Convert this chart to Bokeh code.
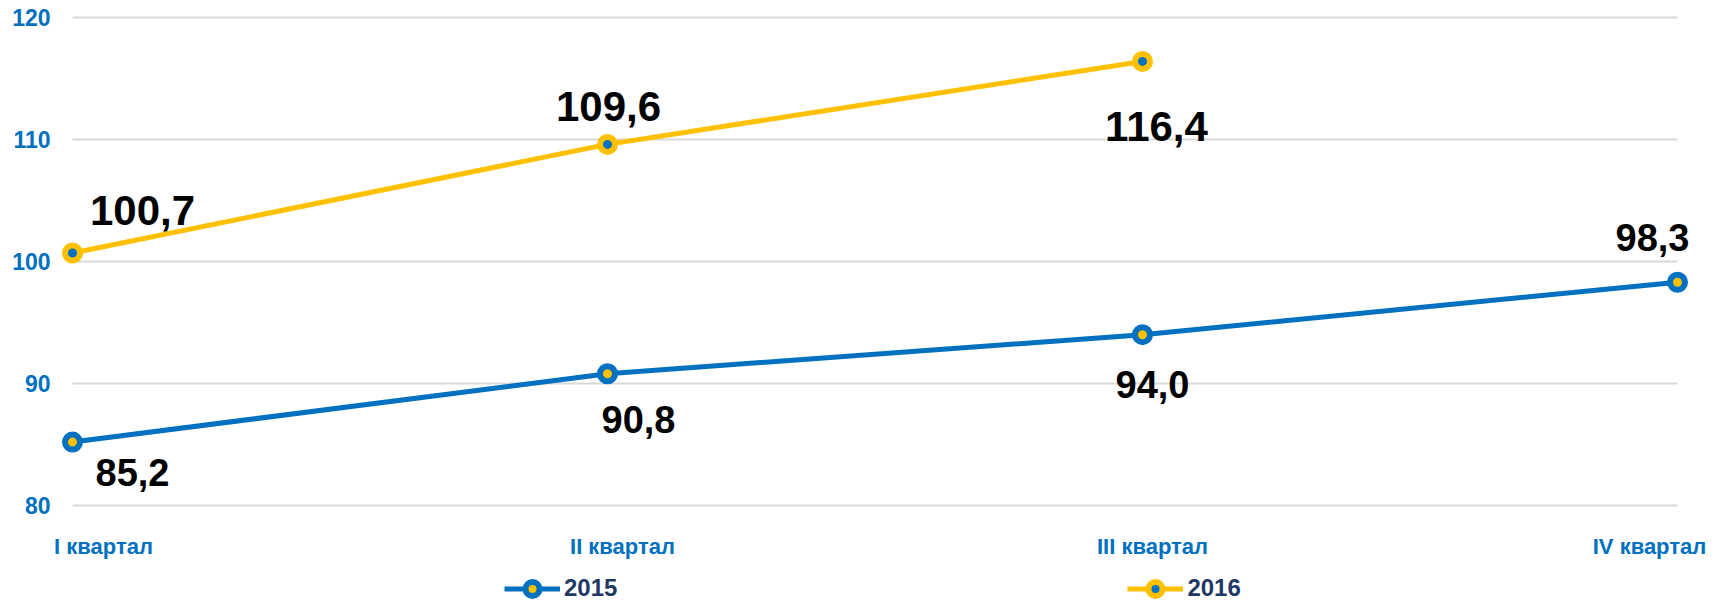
from bokeh.plotting import figure
from bokeh.models import ColumnDataSource, Range1d, FixedTicker, Legend, LegendItem
from bokeh.core.properties import value
from bokeh.embed import file_html
from bokeh.resources import INLINE

# ---- data ----
categories = ["I квартал", "II квартал", "III квартал", "IV квартал"]
values_2015 = [85.2, 90.8, 94.0, 98.3]
values_2016 = [100.7, 109.6, 116.4]
series_names = ["2015", "2016"]
y_ticks = [80, 90, 100, 110, 120]

# ---- styles ----
BLUE = "#0070C0"
GOLD = "#FFC000"
GRID = "#D9D9D9"
NAVY = "#1F3864"
FONT = "Liberation Sans"

# data-label offsets in screen px relative to point
dx_2015 = [60, 31, 10, -25]
dy_2015 = [30, 46, 50, -45]
dx_2016 = [70, 1, 14]
dy_2016 = [-42, -38, 65]
# category label offsets (centre x relative to category, below axis floor)
cat_dx = [31, 15, 10, -28]
cat_dy = 41


def fmt(v):
    return f"{v:.1f}".replace(".", ",")


p = figure(width=1716, height=600,
           x_range=Range1d(-0.04112, 3.0729), y_range=Range1d(72.213, 121.393),
           output_backend="svg", toolbar_location=None,
           min_border_left=50, min_border_right=0, min_border_top=0, min_border_bottom=0,
           x_axis_location=None)
p.outline_line_color = None
p.grid.visible = False
p.background_fill_color = "white"

# y axis
ya = p.yaxis[0]
ya.ticker = FixedTicker(ticks=y_ticks)
ya.axis_line_color = None
ya.major_tick_line_color = None
ya.minor_tick_line_color = None
ya.major_tick_out = 0
ya.major_tick_in = 0
ya.major_label_standoff = 0
ya.major_label_text_font = FONT
ya.major_label_text_font_style = "bold"
ya.major_label_text_font_size = "23px"
ya.major_label_text_color = BLUE

# gridlines spanning the category extent
n = len(categories)
p.segment(x0=[0] * len(y_ticks), x1=[n - 1] * len(y_ticks), y0=y_ticks, y1=y_ticks,
          line_color=GRID, line_width=2)

x15 = list(range(len(values_2015)))
x16 = list(range(len(values_2016)))

l15 = p.line(x15, values_2015, line_color=BLUE, line_width=5)
l16 = p.line(x16, values_2016, line_color=GOLD, line_width=5)
s15 = p.scatter(x15, values_2015, size=15, line_width=6, line_color=BLUE, fill_color=GOLD)
s16 = p.scatter(x16, values_2016, size=15, line_width=6, line_color=GOLD, fill_color=BLUE)

src15 = ColumnDataSource(dict(x=x15, y=values_2015, t=[fmt(v) for v in values_2015],
                              dx=dx_2015, dy=dy_2015))
src16 = ColumnDataSource(dict(x=x16, y=values_2016, t=[fmt(v) for v in values_2016],
                              dx=dx_2016, dy=dy_2016))
p.text(x="x", y="y", text="t", x_offset="dx", y_offset="dy", source=src15,
       text_font=value(FONT), text_font_style="bold", text_font_size="38px",
       text_align="center", text_baseline="alphabetic", text_color="black")
p.text(x="x", y="y", text="t", x_offset="dx", y_offset="dy", source=src16,
       text_font=value(FONT), text_font_style="bold", text_font_size="42px",
       text_align="center", text_baseline="alphabetic", text_color="black")

# category labels under the axis floor
cat_src = ColumnDataSource(dict(x=list(range(n)), y=[y_ticks[0]] * n, t=categories, dx=cat_dx))
p.text(x="x", y="y", text="t", x_offset="dx", y_offset=cat_dy, source=cat_src,
       text_font=value(FONT), text_font_style="bold", text_font_size="22px",
       text_align="center", text_baseline="alphabetic", text_color=BLUE)

legend = Legend(items=[LegendItem(label=series_names[0], renderers=[l15, s15]),
                       LegendItem(label=series_names[1], renderers=[l16, s16])],
                orientation="horizontal", location=(454, -5.5),
                glyph_width=56, glyph_height=35, label_standoff=4, spacing=510,
                padding=0, margin=0, border_line_alpha=0, background_fill_alpha=0,
                label_text_font=FONT, label_text_font_style="bold",
                label_text_font_size="24px", label_text_color=NAVY)
p.add_layout(legend)

open("out.html", "w").write(file_html(p, INLINE))
